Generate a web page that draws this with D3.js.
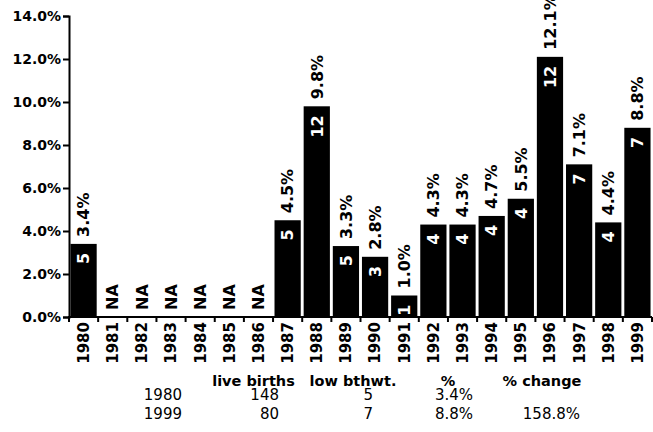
<!DOCTYPE html>
<html>
<head>
<meta charset="utf-8">
<script src="https://cdn.jsdelivr.net/npm/d3@7"></script>
<style>
  body { margin: 0; background: #fff; }
  text { font-family: "DejaVu Sans", sans-serif; }
</style>
</head>
<body>
<div id="chart"></div>
<script>
var w = 653
var h = 432

// chart data
var years = ["1980","1981","1982","1983","1984","1985","1986","1987","1988","1989",
             "1990","1991","1992","1993","1994","1995","1996","1997","1998","1999"]
var pct = [3.4, null, null, null, null, null, null, 4.5, 9.8, 3.3,
           2.8, 1.0, 4.3, 4.3, 4.7, 5.5, 12.1, 7.1, 4.4, 8.8]
var counts = [5, null, null, null, null, null, null, 5, 12, 5,
              3, 1, 4, 4, 4, 4, 12, 7, 4, 7]
var yTicks = [0, 2, 4, 6, 8, 10, 12, 14]

// summary table under the chart
var tableHeaders = ["live births", "low bthwt.", "%", "% change"]
var tableRows = [
    ["1980", "148", "5", "3.4%", ""],
    ["1999", "80", "7", "8.8%", "158.8%"]
]

var svg = d3.select("#chart").append("svg").attr("width", w).attr("height", h)

var x = d3.scaleBand().domain(years).range([69, 652]).paddingInner(0.1).paddingOuter(0.05)
var y = d3.scaleLinear().domain([0, 14]).range([317, 16])
var step = x.step()

// y axis
var yAxis = d3.axisLeft(y).tickValues(yTicks).tickSize(6).tickPadding(2)
    .tickFormat(function(d){ return d.toFixed(1) + "%" })
var gy = svg.append("g").attr("transform", "translate(69,0)").call(yAxis)
gy.select(".domain").attr("stroke", "#000").attr("stroke-width", 2)
gy.selectAll(".tick line").attr("stroke", "#000").attr("stroke-width", 2)
gy.selectAll(".tick text")
    .style("font-family", "DejaVu Sans")
    .style("font-weight", "bold")
    .style("font-size", "14px")
    .attr("fill", "#000")

// bars
svg.selectAll("rect.bar")
    .data(years.filter(function(d, i){ return pct[i] != null }))
    .enter()
    .append("rect")
    .attr("class", "bar")
    .attr("x", function(d){ return x(d) })
    .attr("width", x.bandwidth())
    .attr("y", function(d){ return y(pct[years.indexOf(d)]) })
    .attr("height", function(d){ return y(0) - y(pct[years.indexOf(d)]) })
    .attr("fill", "#000")

// x axis line + ticks at band boundaries
svg.append("line")
    .attr("x1", 68).attr("x2", 652)
    .attr("y1", y(0)).attr("y2", y(0))
    .attr("stroke", "#000").attr("stroke-width", 2)
var bounds = years.map(function(d){ return x(d) - step * x.paddingInner() / 2 })
bounds.push(x(years[years.length - 1]) + x.bandwidth() + step * x.paddingInner() / 2)
svg.selectAll("line.xtick")
    .data(bounds)
    .enter()
    .append("line")
    .attr("class", "xtick")
    .attr("x1", function(d){ return d }).attr("x2", function(d){ return d })
    .attr("y1", y(0)).attr("y2", y(0) + 5)
    .attr("stroke", "#000").attr("stroke-width", 2)

// year labels
svg.selectAll("text.year")
    .data(years)
    .enter()
    .append("text")
    .attr("class", "year")
    .attr("transform", function(d){
        return "translate(" + (x(d) + x.bandwidth() / 2) + "," + (y(0) + 5) + ") rotate(-90)"
    })
    .attr("dy", "0.36em")
    .attr("text-anchor", "end")
    .style("font-weight", "bold")
    .style("font-size", "15px")
    .text(function(d){ return d })

// percent labels above bars, NA where missing
svg.selectAll("text.pct")
    .data(years)
    .enter()
    .append("text")
    .attr("class", "pct")
    .attr("transform", function(d, i){
        var top = pct[i] == null ? y(0) : y(pct[i]) - 7
        if (pct[i] == null) top = y(0) - 7
        return "translate(" + (x(d) + x.bandwidth() / 2) + "," + top + ") rotate(-90)"
    })
    .attr("dy", "0.36em")
    .attr("text-anchor", "start")
    .style("font-weight", "bold")
    .style("font-size", "16px")
    .text(function(d, i){ return pct[i] == null ? "NA" : pct[i].toFixed(1) + "%" })

// counts inside bars
svg.selectAll("text.count")
    .data(years.filter(function(d, i){ return counts[i] != null }))
    .enter()
    .append("text")
    .attr("class", "count")
    .attr("transform", function(d){
        var i = years.indexOf(d)
        return "translate(" + (x(d) + x.bandwidth() / 2) + "," + (y(pct[i]) + 9) + ") rotate(-90)"
    })
    .attr("dy", "0.36em")
    .attr("text-anchor", "end")
    .attr("fill", "#fff")
    .style("font-weight", "bold")
    .style("font-size", "16px")
    .text(function(d){ return counts[years.indexOf(d)] })

// table
var headX = [253.5, 353, 448, 542]
svg.selectAll("text.thead")
    .data(tableHeaders)
    .enter()
    .append("text")
    .attr("class", "thead")
    .attr("x", function(d, i){ return headX[i] })
    .attr("y", 386)
    .attr("text-anchor", "middle")
    .style("font-weight", "bold")
    .style("font-size", "14.5px")
    .text(function(d){ return d })

var colRight = [182, 279, 373, 473, 580]
var rowY = [400, 419]
tableRows.forEach(function(row, r){
    svg.selectAll("text.row" + r)
        .data(row)
        .enter()
        .append("text")
        .attr("class", "row" + r)
        .attr("x", function(d, i){ return colRight[i] })
        .attr("y", rowY[r])
        .attr("text-anchor", "end")
        .style("font-size", "15px")
        .text(function(d){ return d })
})
</script>
</body>
</html>
